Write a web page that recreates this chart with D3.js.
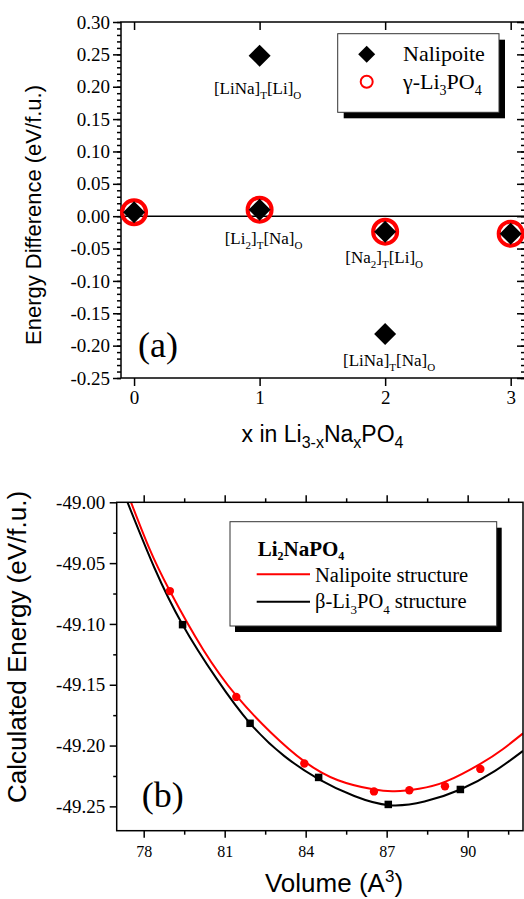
<!DOCTYPE html>
<html><head><meta charset="utf-8">
<script src="https://cdn.jsdelivr.net/npm/d3@7"></script>
<style>body{margin:0;background:#fff}</style>
</head><body>
<svg id="chart" width="524" height="899"></svg>
<script>
// ---------- Panel (a) data ----------
const nalipoiteX = [0, 1, 1, 2, 2, 3];
const nalipoiteE = [0.006, 0.010, 0.248, -0.024, -0.182, -0.027];
const gammaX = [0, 1, 2, 3];
const gammaE = [0.006, 0.010, -0.024, -0.027];
const configX = [1, 1, 2, 2];
const configY = [0.189, -0.043, -0.072, -0.232];
const configDx = [-2, 4, -1, 4];
const configLabels = [
  [["[LiNa]"], ["T", "sub"], ["[Li]"], ["O", "sub"]],
  [["[Li"], ["2", "sub"], ["]"], ["T", "sub"], ["[Na]"], ["O", "sub"]],
  [["[Na"], ["2", "sub"], ["]"], ["T", "sub"], ["[Li]"], ["O", "sub"]],
  [["[LiNa]"], ["T", "sub"], ["[Na]"], ["O", "sub"]]
];
const aXTicks = [0, 1, 2, 3];
const aYTicks = [-0.25, -0.20, -0.15, -0.10, -0.05, 0.00, 0.05, 0.10, 0.15, 0.20, 0.25, 0.30];

// ---------- Panel (b) data ----------
const nalVol = [78.97, 81.43, 83.95, 86.53, 87.84, 89.16, 90.47];
const nalEn  = [-49.073, -49.160, -49.2148, -49.2377, -49.2367, -49.2334, -49.2192];
const betaVol = [79.44, 81.94, 84.48, 87.06, 89.73];
const betaEn  = [-49.1006, -49.1817, -49.2262, -49.2484, -49.2361];
const nalFitV = [77.53, 78.2, 78.97, 80.2, 81.43, 82.7, 83.95, 85.2, 86.5, 87.3, 88.2, 89.2, 90.47, 91.3, 92.05];
const nalFitE = [-49.000, -49.0375, -49.073, -49.121, -49.159, -49.189, -49.213, -49.2285, -49.236, -49.2375, -49.2355, -49.2295, -49.215, -49.203, -49.190];
const betaFitV = [77.40, 78.4, 79.44, 80.7, 81.94, 83.2, 84.48, 85.8, 87.1, 88.4, 89.73, 91.0, 92.05];
const betaFitE = [-49.000, -49.054, -49.1006, -49.145, -49.1817, -49.2085, -49.2275, -49.2415, -49.249, -49.246, -49.2361, -49.221, -49.2044];
const bXTicks = [78, 81, 84, 87, 90];
const bXMinor = [79.5, 82.5, 85.5, 88.5, 91.5];
const bYTicks = [-49.25, -49.20, -49.15, -49.10, -49.05, -49.00];
const bYMinor = [-49.225, -49.175, -49.125, -49.075, -49.025];

const SERIF = "'Liberation Serif','Times New Roman',serif";
const SANS = "'Liberation Sans',Arial,sans-serif";
const RED = "#ff0000";

const svg = d3.select("#chart");

// rich text helper: parts = [[text, mode]], mode: undefined | 'sub' | 'sup'
function richText(parent, x, y, parts, size, subSize, shift, attrs) {
  const t = parent.append("text").attr("x", x).attr("y", y).attr("font-size", size);
  Object.entries(attrs || {}).forEach(([k, v]) => t.attr(k, v));
  let cur = 0;
  parts.forEach(([s, mode]) => {
    const target = mode === "sub" ? shift : mode === "sup" ? -shift * 1.6 : 0;
    const ts = t.append("tspan").text(s).attr("dy", target - cur);
    if (mode) ts.attr("font-size", subSize);
    cur = target;
  });
  return t;
}

function styleAxis(g, font, size) {
  g.select(".domain").remove();
  g.selectAll(".tick line").attr("stroke", "#000").attr("stroke-width", 1.5);
  g.selectAll(".tick text").attr("font-family", font).attr("font-size", size).attr("fill", "#000");
}

// ================= Panel (a) =================
const A = {left: 121, right: 525, top: 22, bottom: 378};
const xa = d3.scaleLinear().domain([-0.104, 3.114]).range([A.left, A.right]);
const ya = d3.scaleLinear().domain([-0.25, 0.30]).range([A.bottom, A.top]);
const ga = svg.append("g");

ga.append("g").attr("transform", `translate(${A.left},0)`)
  .call(d3.axisLeft(ya).tickValues(d3.range(-0.25, 0.3001, 0.01)).tickSize(4).tickFormat(""))
  .call(g => styleAxis(g, SERIF, 19));
ga.append("g").attr("transform", `translate(${A.left},0)`)
  .call(d3.axisLeft(ya).tickValues(aYTicks).tickSize(8).tickPadding(3).tickFormat(d => d.toFixed(2)))
  .call(g => styleAxis(g, SERIF, 19));
ga.append("g").attr("transform", `translate(${A.right},0)`)
  .call(d3.axisRight(ya).tickValues(d3.range(-0.25, 0.3001, 0.01)).tickSize(-4).tickFormat(""))
  .call(g => styleAxis(g, SERIF, 19));
ga.append("g").attr("transform", `translate(${A.right},0)`)
  .call(d3.axisRight(ya).tickValues(aYTicks).tickSize(-8).tickFormat(""))
  .call(g => styleAxis(g, SERIF, 19));
ga.append("g").attr("transform", `translate(0,${A.bottom})`)
  .call(d3.axisBottom(xa).tickValues(aXTicks).tickSize(8).tickPadding(5).tickFormat(d3.format("d")))
  .call(g => styleAxis(g, SERIF, 19));
ga.append("g").attr("transform", `translate(0,${A.top})`)
  .call(d3.axisTop(xa).tickValues(aXTicks).tickSize(-8).tickFormat(""))
  .call(g => styleAxis(g, SERIF, 19));

ga.append("rect").attr("x", A.left).attr("y", A.top).attr("width", A.right - A.left).attr("height", A.bottom - A.top)
  .attr("fill", "none").attr("stroke", "#000").attr("stroke-width", 1.5);

// zero line
ga.append("line").attr("x1", A.left).attr("x2", A.right).attr("y1", ya(0)).attr("y2", ya(0))
  .attr("stroke", "#000").attr("stroke-width", 1.5);

// gamma circles
ga.selectAll("circle.gam").data(gammaX).join("circle").attr("class", "gam")
  .attr("cx", d => xa(d)).attr("cy", (d, i) => ya(gammaE[i])).attr("r", 12)
  .attr("fill", "none").attr("stroke", RED).attr("stroke-width", 4);
// nalipoite diamonds
const diamond = (cx, cy, r) => `M${cx},${cy - r}L${cx + r},${cy}L${cx},${cy + r}L${cx - r},${cy}Z`;
ga.selectAll("path.nal").data(nalipoiteX).join("path").attr("class", "nal")
  .attr("d", (d, i) => diamond(xa(d), ya(nalipoiteE[i]), 11)).attr("fill", "#000");

// configuration labels
configLabels.forEach((parts, i) => {
  richText(ga, xa(configX[i]) + configDx[i], ya(configY[i]), parts, 17, 11, 5,
    {"font-family": SERIF, "text-anchor": "middle"});
});

// (a)
ga.append("text").attr("x", 138).attr("y", 356.5).attr("font-family", SERIF).attr("font-size", 36).text("(a)");

// legend (a)
const la = {x: 337.7, y: 33.7, w: 161.3, h: 78.6};
ga.append("rect").attr("x", la.x + 6).attr("y", la.y + 6).attr("width", la.w).attr("height", la.h).attr("fill", "#000");
ga.append("rect").attr("x", la.x).attr("y", la.y).attr("width", la.w).attr("height", la.h)
  .attr("fill", "#fff").attr("stroke", "#333").attr("stroke-width", 1);
ga.append("path").attr("d", diamond(366.7, 54.3, 8.5)).attr("fill", "#000");
ga.append("circle").attr("cx", 366.7).attr("cy", 81.7).attr("r", 6).attr("fill", "none").attr("stroke", RED).attr("stroke-width", 2);
ga.append("text").attr("x", 403).attr("y", 61).attr("font-family", SERIF).attr("font-size", 22).text("Nalipoite");
richText(ga, 403, 88.5, [["γ-Li"], ["3", "sub"], ["PO"], ["4", "sub"]], 22, 14, 6, {"font-family": SERIF});

// axis titles (a)
richText(ga, 322.5, 441.7, [["x in Li"], ["3-x", "sub"], ["Na"], ["x", "sub"], ["PO"], ["4", "sub"]], 23, 16, 6,
  {"font-family": SANS, "text-anchor": "middle"});
ga.append("text").attr("transform", "translate(41,215) rotate(-90)").attr("text-anchor", "middle")
  .attr("font-family", SANS).attr("font-size", 22).text("Energy Difference (eV/f.u.)");

// ================= Panel (b) =================
const B = {left: 116.7, right: 523, top: 502.3, bottom: 830.7};
const xb = d3.scaleLinear().domain([77, 92.05]).range([B.left, B.right]);
const yb = d3.scaleLinear().domain([-49.27, -49.00]).range([B.bottom, B.top]);
const gb = svg.append("g");

gb.append("g").attr("transform", `translate(${B.left},0)`)
  .call(d3.axisLeft(yb).tickValues(bYMinor).tickSize(3.5).tickFormat(""))
  .call(g => styleAxis(g, SERIF, 19));
gb.append("g").attr("transform", `translate(${B.left},0)`)
  .call(d3.axisLeft(yb).tickValues(bYTicks).tickSize(7).tickPadding(4.5).tickFormat(d => d.toFixed(2)))
  .call(g => styleAxis(g, SERIF, 19));
gb.append("g").attr("transform", `translate(0,${B.top})`)
  .call(d3.axisTop(xb).tickValues(bXMinor).tickSize(4).tickFormat(""))
  .call(g => styleAxis(g, SERIF, 16));
gb.append("g").attr("transform", `translate(0,${B.top})`)
  .call(d3.axisTop(xb).tickValues(bXTicks).tickSize(7).tickFormat(""))
  .call(g => styleAxis(g, SERIF, 16));
gb.append("g").attr("transform", `translate(0,${B.bottom})`)
  .call(d3.axisBottom(xb).tickValues(bXMinor).tickSize(4).tickFormat(""))
  .call(g => styleAxis(g, SERIF, 16));
gb.append("g").attr("transform", `translate(0,${B.bottom})`)
  .call(d3.axisBottom(xb).tickValues(bXTicks).tickSize(7).tickPadding(8).tickFormat(d3.format("d")))
  .call(g => styleAxis(g, SERIF, 16));

svg.append("defs").append("clipPath").attr("id", "clipB").append("rect")
  .attr("x", B.left).attr("y", B.top).attr("width", B.right - B.left).attr("height", B.bottom - B.top);

const line = d3.line().x(d => xb(d[0])).y(d => yb(d[1])).curve(d3.curveNatural);
const gc = gb.append("g").attr("clip-path", "url(#clipB)");
gc.append("path").attr("d", line(betaFitV.map((v, i) => [v, betaFitE[i]])))
  .attr("fill", "none").attr("stroke", "#000").attr("stroke-width", 2);
gc.append("path").attr("d", line(nalFitV.map((v, i) => [v, nalFitE[i]])))
  .attr("fill", "none").attr("stroke", RED).attr("stroke-width", 2);

gb.selectAll("rect.beta").data(betaVol).join("rect").attr("class", "beta")
  .attr("x", d => xb(d) - 3.75).attr("y", (d, i) => yb(betaEn[i]) - 3.75)
  .attr("width", 7.5).attr("height", 7.5).attr("fill", "#000");
gb.selectAll("circle.nalb").data(nalVol).join("circle").attr("class", "nalb")
  .attr("cx", d => xb(d)).attr("cy", (d, i) => yb(nalEn[i])).attr("r", 4.2).attr("fill", RED);

gb.append("rect").attr("x", B.left).attr("y", B.top).attr("width", B.right - B.left).attr("height", B.bottom - B.top)
  .attr("fill", "none").attr("stroke", "#000").attr("stroke-width", 1.5);

// (b)
gb.append("text").attr("x", 141.7).attr("y", 807).attr("font-family", SERIF).attr("font-size", 36).text("(b)");

// legend (b)
const lb = {x: 230, y: 521.7, w: 266.7, h: 104.3};
gb.append("rect").attr("x", lb.x + 5).attr("y", lb.y + 6).attr("width", lb.w).attr("height", lb.h).attr("fill", "#000");
gb.append("rect").attr("x", lb.x).attr("y", lb.y).attr("width", lb.w).attr("height", lb.h)
  .attr("fill", "#fff").attr("stroke", "#333").attr("stroke-width", 1);
richText(gb, 257.7, 555.5, [["Li"], ["2", "sub"], ["NaPO"], ["4", "sub"]], 21, 12, 4,
  {"font-family": SERIF, "font-weight": "bold"});
gb.append("line").attr("x1", 256.7).attr("x2", 310).attr("y1", 574.3).attr("y2", 574.3).attr("stroke", RED).attr("stroke-width", 2);
gb.append("text").attr("x", 315).attr("y", 582).attr("font-family", SERIF).attr("font-size", 20.5).text("Nalipoite structure");
gb.append("line").attr("x1", 256.7).attr("x2", 310).attr("y1", 601.7).attr("y2", 601.7).attr("stroke", "#000").attr("stroke-width", 2);
richText(gb, 315, 607.5, [["β-Li"], ["3", "sub"], ["PO"], ["4", "sub"], [" structure"]], 20.5, 13, 6, {"font-family": SERIF});

// axis titles (b)
richText(gb, 334, 892, [["Volume (A"], ["3", "sup"], [")"]], 26, 17, 6, {"font-family": SANS, "text-anchor": "middle"});
gb.append("text").attr("transform", "translate(26,647) rotate(-90)").attr("text-anchor", "middle")
  .attr("font-family", SANS).attr("font-size", 26).text("Calculated Energy (eV/f.u.)");
</script>
</body></html>
